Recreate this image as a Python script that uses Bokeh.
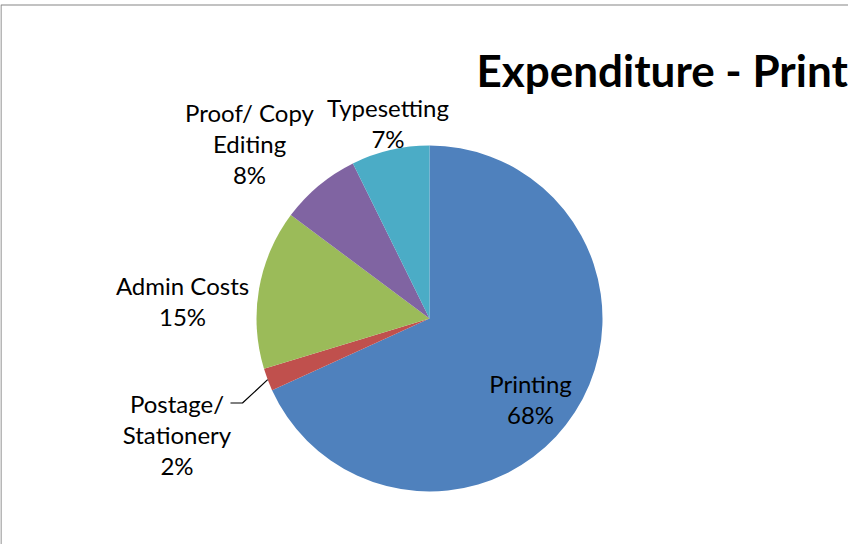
import math
from bokeh.plotting import figure
from bokeh.models import Range1d, ColumnDataSource
from bokeh.core.properties import value
from bokeh.embed import file_html
from bokeh.resources import INLINE

# ---- data ----
categories = ["Printing", "Postage/ Stationery", "Admin Costs", "Proof/ Copy Editing", "Typesetting"]
shares = [68.2, 2.1, 14.9, 7.5, 7.3]
colors = ["#4F81BD", "#C0504D", "#9BBB59", "#8064A2", "#4BACC6"]
label_lines = [["Printing"], ["Postage/", "Stationery"], ["Admin Costs"], ["Proof/ Copy", "Editing"], ["Typesetting"]]
title_text = "Expenditure - Print"

# ---- layout (screen pixels) ----
W, H = 848, 544
def Y(sy):
    return 552 - sy

cx, cy, R = 437, Y(326), 173
label_anchor = [(538, 391), (184.5, 410.5), (190, 293), (257, 119.5), (395.5, 114.5)]
line_gap = 31
FONT = "Lato"

p = figure(width=W, height=H, output_backend="svg", toolbar_location=None,
           x_range=Range1d(8, 856), y_range=Range1d(Y(552), Y(8)),
           x_axis_location=None, y_axis_location=None, min_border=0,
           outline_line_color=None, background_fill_color="white",
           border_fill_color="white")
p.grid.visible = False

total = sum(shares)
starts, ends, mids = [], [], []
cum = 0.0
for v in shares:
    a0 = math.pi / 2 - 2 * math.pi * cum / total
    cum += v
    a1 = math.pi / 2 - 2 * math.pi * cum / total
    starts.append(a0)
    ends.append(a1)
    mids.append((a0 + a1) / 2)

src = ColumnDataSource(dict(start=starts, end=ends, color=colors, cat=categories))
p.wedge(x=cx, y=cy, radius=R, start_angle="start", end_angle="end",
        direction="clock", fill_color="color", line_color=None, source=src)

# labels
tx, ty, tt = [], [], []
for i, lines in enumerate(label_lines):
    ax, by = label_anchor[i]
    full = lines + [f"{shares[i] / total * 100:.0f}%"]
    for k, s in enumerate(full):
        tx.append(ax)
        ty.append(Y(by + k * line_gap))
        tt.append(s)
p.text(x=tx, y=ty, text=tt, text_font=value(FONT), text_font_size="24px",
       text_align="center", text_baseline="alphabetic", text_color="black")

# leader line for Postage/ Stationery
m = mids[1]
ex, ey = cx + R * math.cos(m), cy + R * math.sin(m)
p.line(x=[238, 250, ex], y=[Y(410.5), Y(410.5), ey], line_color="black", line_width=1.2)

# title
p.text(x=[484], y=[Y(77)], text=[title_text], text_font=value(FONT),
       text_font_size="44px", text_font_style="bold", text_align="left",
       text_baseline="alphabetic", text_color="black")

# chart border (top and left visible)
p.line(x=[8.5, 8.5, 856], y=[Y(552), Y(12.5), Y(12.5)], line_color="#868686", line_width=1.2)

open("out.html", "w").write(file_html(p, INLINE))
